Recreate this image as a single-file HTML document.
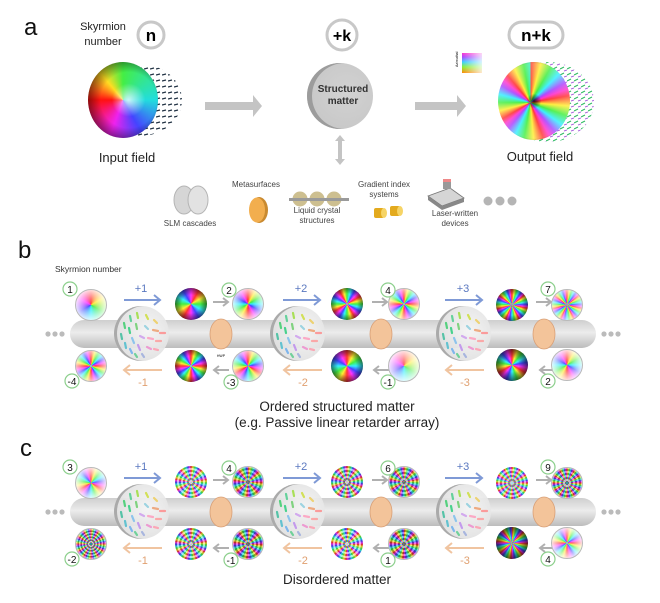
<!DOCTYPE html>
<html><head><meta charset="utf-8"><style>
body{margin:0;background:#fff}
#c{position:relative;width:660px;height:603px;overflow:hidden;background:#fff;font-family:"Liberation Sans",sans-serif}
.d{position:absolute;border-radius:50%}
.w{width:32px;height:32px;box-sizing:border-box;border:1.5px solid #b9b9b9}
.k{width:32px;height:32px}
svg{position:absolute;left:0;top:0}
</style></head><body><div id="c">
<svg width="660" height="603">
<defs>
<pattern id="ar" width="6" height="6" patternUnits="userSpaceOnUse"><line x1="0" y1="3" x2="4" y2="2" stroke="#234" stroke-width="1.2"/></pattern>
<pattern id="ar2" width="7" height="6" patternUnits="userSpaceOnUse"><line x1="0" y1="3" x2="4" y2="1" stroke="#3b6" stroke-width="1.2"/><line x1="4" y1="5" x2="7" y2="4" stroke="#a6d" stroke-width="1"/></pattern>
<linearGradient id="tube" x1="0" y1="0" x2="0" y2="1"><stop offset="0" stop-color="#cfcfcf"/><stop offset=".45" stop-color="#ececec"/><stop offset="1" stop-color="#bcbcbc"/></linearGradient>
</defs>
<text x="24" y="35" font-size="24" fill="#111">a</text>
<text x="103" y="30" font-size="11" text-anchor="middle" fill="#222">Skyrmion</text>
<text x="103" y="45" font-size="11" text-anchor="middle" fill="#222">number</text>
<circle cx="151" cy="35" r="13" fill="#fff" stroke="#c8c8c8" stroke-width="3"/>
<text x="151" y="41" font-size="17" font-weight="bold" text-anchor="middle">n</text>
<circle cx="342" cy="35" r="15" fill="#fff" stroke="#c8c8c8" stroke-width="3"/>
<text x="342" y="41" font-size="16" font-weight="bold" text-anchor="middle">+k</text>
<rect x="509" y="22" width="54" height="26" rx="13" fill="#fff" stroke="#c8c8c8" stroke-width="3"/>
<text x="536" y="41" font-size="17" font-weight="bold" text-anchor="middle">n+k</text>
<ellipse cx="140" cy="100" rx="42" ry="36" fill="url(#ar)"/>
<ellipse cx="548" cy="102" rx="46" ry="40" fill="url(#ar2)"/>
<path d="M205 102h48v-7l9 11-9 11v-7h-48z" fill="#c4c4c4"/>
<path d="M415 102h42v-7l9 11-9 11v-7h-42z" fill="#c4c4c4"/>
<path d="M340 135l-5 6h3v18h-3l5 6 5-6h-3v-18h3z" fill="#c4c4c4"/>
<text x="127" y="162" font-size="13" text-anchor="middle" fill="#222">Input field</text>
<text x="540" y="161" font-size="13" text-anchor="middle" fill="#222">Output field</text>
<defs><linearGradient id="cm" x1="0" y1="1" x2="0" y2="0"><stop offset="0" stop-color="#f80"/><stop offset=".3" stop-color="#8e3"/><stop offset=".55" stop-color="#3cf"/><stop offset=".8" stop-color="#a4f"/><stop offset="1" stop-color="#f3c"/></linearGradient><linearGradient id="cmw" x1="0" y1="0" x2="1" y2="0"><stop offset="0" stop-color="#fff" stop-opacity="0"/><stop offset="1" stop-color="#fff" stop-opacity=".8"/></linearGradient></defs>
<rect x="462" y="53" width="20" height="20" fill="url(#cm)"/><rect x="462" y="53" width="20" height="20" fill="url(#cmw)"/>
<text x="458" y="67" font-size="3.5" transform="rotate(-90 458 67)">Azimuthal</text>
<ellipse cx="184" cy="200" rx="10" ry="14" fill="#d6d6d6" stroke="#b5b5b5"/>
<ellipse cx="198" cy="200" rx="10" ry="14" fill="#e2e2e2" stroke="#b5b5b5"/>
<text x="190" y="226" font-size="8" text-anchor="middle" fill="#444">SLM cascades</text>
<text x="256" y="187" font-size="8" text-anchor="middle" fill="#444">Metasurfaces</text>
<ellipse cx="259" cy="210" rx="9" ry="13" fill="#c98a30"/><ellipse cx="257" cy="210" rx="8" ry="12.5" fill="#f2ae4e"/>
<circle cx="300" cy="199" r="7.5" fill="#cdbf90"/><circle cx="317" cy="199" r="7.5" fill="#cdbf90"/><circle cx="334" cy="199" r="7.5" fill="#cdbf90"/>
<rect x="289" y="198" width="60" height="3" fill="#9a9a9a"/>
<text x="317" y="213" font-size="8" text-anchor="middle" fill="#444">Liquid crystal</text>
<text x="317" y="223" font-size="8" text-anchor="middle" fill="#444">structures</text>
<text x="384" y="187" font-size="8" text-anchor="middle" fill="#444">Gradient index</text>
<text x="384" y="197" font-size="8" text-anchor="middle" fill="#444">systems</text>
<rect x="374" y="208" width="10" height="10" rx="2" fill="#e3aa1e"/><ellipse cx="384" cy="213" rx="3" ry="5" fill="#f6d466"/>
<rect x="390" y="206" width="10" height="10" rx="2" fill="#e3aa1e"/><ellipse cx="400" cy="211" rx="3" ry="5" fill="#f6d466"/>
<path d="M428 196l22-8 14 10-22 8z" fill="#d5d5d5" stroke="#777" stroke-width=".8"/><path d="M428 196v4l14 10v-4zM442 206v4l22-8v-4z" fill="#888"/>
<rect x="443" y="179" width="8" height="10" fill="#999"/><rect x="443" y="179" width="8" height="3" fill="#e88"/>
<text x="455" y="216" font-size="8" text-anchor="middle" fill="#444">Laser-written</text>
<text x="455" y="226" font-size="8" text-anchor="middle" fill="#444">devices</text>
<circle cx="488" cy="201" r="4.5" fill="#b5b5b5"/><circle cx="500" cy="201" r="4.5" fill="#b5b5b5"/><circle cx="512" cy="201" r="4.5" fill="#b5b5b5"/>
<text x="18" y="258" font-size="24" fill="#111">b</text>
<text x="55" y="272" font-size="8.5" fill="#333">Skyrmion number</text>
<rect x="70" y="320" width="526" height="28" rx="14" fill="url(#tube)"/>
<rect x="70" y="498" width="526" height="28" rx="14" fill="url(#tube)"/>
<g fill="#bbb"><circle cx="48" cy="334" r="2.6"/><circle cx="55" cy="334" r="2.6"/><circle cx="62" cy="334" r="2.6"/><circle cx="604" cy="334" r="2.6"/><circle cx="611" cy="334" r="2.6"/><circle cx="618" cy="334" r="2.6"/>
<circle cx="48" cy="512" r="2.6"/><circle cx="55" cy="512" r="2.6"/><circle cx="62" cy="512" r="2.6"/><circle cx="604" cy="512" r="2.6"/><circle cx="611" cy="512" r="2.6"/><circle cx="618" cy="512" r="2.6"/></g>
<g id="arrs">
<g stroke="#7f9ad6" stroke-width="2" fill="none"><path d="M124 300h36M154 295l6 5-6 5"/><path d="M283 300h37M314 295l6 5-6 5"/><path d="M445 300h37M476 295l6 5-6 5"/></g>
<g fill="#5a78c0" font-size="11" text-anchor="middle"><text x="141" y="292">+1</text><text x="301" y="292">+2</text><text x="463" y="292">+3</text></g>
<g stroke="#b0b0b0" stroke-width="2" fill="none"><path d="M213 302h15M223 298l5 4-5 4"/><path d="M372 302h15M382 298l5 4-5 4"/><path d="M536 302h15M546 298l5 4-5 4"/>
<path d="M214 370h15M219 366l-5 4 5 4"/><path d="M374 370h15M379 366l-5 4 5 4"/><path d="M540 370h15M545 366l-5 4 5 4"/></g>
<g stroke="#f0c4a0" stroke-width="2" fill="none"><path d="M124 370h38M130 365l-6 5 6 5"/><path d="M284 370h38M290 365l-6 5 6 5"/><path d="M446 370h38M452 365l-6 5 6 5"/></g>
<g fill="#e0a070" font-size="11" text-anchor="middle"><text x="143" y="386">-1</text><text x="303" y="386">-2</text><text x="465" y="386">-3</text></g>
</g>
<use href="#arrs" y="178"/>
<text x="221" y="357" font-size="3.5" text-anchor="middle">HWP</text>
<text x="337" y="411" font-size="13.5" text-anchor="middle" fill="#222">Ordered structured matter</text>
<text x="337" y="427" font-size="13.5" text-anchor="middle" fill="#222">(e.g. Passive linear retarder array)</text>
<text x="20" y="456" font-size="24" fill="#111">c</text>
<text x="337" y="584" font-size="13.5" text-anchor="middle" fill="#222">Disordered matter</text>
<g fill="#f3c49a" stroke="#d9a077" stroke-width=".8"><ellipse cx="221" cy="334" rx="11" ry="15"/><ellipse cx="381" cy="334" rx="11" ry="15"/><ellipse cx="544" cy="334" rx="11" ry="15"/>
<ellipse cx="221" cy="512" rx="11" ry="15"/><ellipse cx="381" cy="512" rx="11" ry="15"/><ellipse cx="544" cy="512" rx="11" ry="15"/></g>
</svg>

<div class="d" style="left:88px;top:62px;width:70px;height:76px;background:radial-gradient(circle at 58% 50%,rgba(255,255,255,.75) 0,rgba(255,255,255,0) 30%,rgba(0,0,0,0) 50%,rgba(0,0,0,.95) 100%),conic-gradient(from 0deg at 50% 50%,#4e4 0deg,#2dd 90deg,#44f 150deg,#e2e 200deg,#f11 270deg,#fd2 320deg,#4e4 360deg)"></div>
<div class="d" style="left:498px;top:62px;width:72px;height:78px;background:radial-gradient(circle at 50% 50%,rgba(0,0,0,.8) 0,rgba(255,255,255,0) 14%,rgba(255,255,255,.2) 70%,rgba(0,0,0,.6) 100%),repeating-conic-gradient(from 0deg at 45% 52%,#f33 0deg,#fe3 15deg,#4e4 30deg,#3ef 45deg,#a4f 60deg,#f3c 70deg,#f33 80deg)"></div>
<div class="d" style="left:307px;top:63px;width:66px;height:66px;background:radial-gradient(circle at 60% 45%,#d2d2d2,#c4c4c4);box-shadow:inset 5px 0 0 #9c9c9c"></div>
<div style="position:absolute;left:310px;top:84px;width:66px;text-align:center;font-size:10px;font-weight:bold;color:#333;line-height:12px">Structured<br>matter</div>

<div class="d" style="left:114px;top:306px;width:55px;height:55px;background:radial-gradient(circle at 60% 45%,rgba(245,245,245,.95),rgba(215,215,215,.9));box-shadow:inset 3px 0 0 #aaa"></div>
<div class="d" style="left:270px;top:306px;width:55px;height:55px;background:radial-gradient(circle at 60% 45%,rgba(245,245,245,.95),rgba(215,215,215,.9));box-shadow:inset 3px 0 0 #aaa"></div>
<div class="d" style="left:436px;top:306px;width:55px;height:55px;background:radial-gradient(circle at 60% 45%,rgba(245,245,245,.95),rgba(215,215,215,.9));box-shadow:inset 3px 0 0 #aaa"></div>
<div class="d" style="left:114px;top:484px;width:55px;height:55px;background:radial-gradient(circle at 60% 45%,rgba(245,245,245,.95),rgba(215,215,215,.9));box-shadow:inset 3px 0 0 #aaa"></div>
<div class="d" style="left:270px;top:484px;width:55px;height:55px;background:radial-gradient(circle at 60% 45%,rgba(245,245,245,.95),rgba(215,215,215,.9));box-shadow:inset 3px 0 0 #aaa"></div>
<div class="d" style="left:436px;top:484px;width:55px;height:55px;background:radial-gradient(circle at 60% 45%,rgba(245,245,245,.95),rgba(215,215,215,.9));box-shadow:inset 3px 0 0 #aaa"></div>

<div class="d w" style="left:75px;top:289px;background:radial-gradient(circle,rgba(255,255,255,0) 5%,rgba(255,255,255,.95) 80%),conic-gradient(#f33,#fe3,#4e4,#3ef,#44f,#f3f,#f33)"></div>
<div class="d k" style="left:175px;top:288px;background:radial-gradient(circle,rgba(0,0,0,0) 40%,#000 100%),repeating-conic-gradient(from 30deg,#f33 0,#fe3 30deg,#4e4 60deg,#3ef 90deg,#44f 120deg,#f3f 150deg,#f33 180deg)"></div>
<div class="d w" style="left:232px;top:288px;background:radial-gradient(circle,rgba(255,255,255,0) 20%,rgba(255,255,255,.95) 85%),repeating-conic-gradient(#f33 0,#fe3 30deg,#4e4 60deg,#3ef 90deg,#44f 120deg,#f3f 150deg,#f33 180deg)"></div>
<div class="d k" style="left:331px;top:288px;background:radial-gradient(circle,rgba(0,0,0,0) 45%,#000 100%),repeating-conic-gradient(from 60deg,#f33 0,#fe3 15deg,#4e4 30deg,#3ef 45deg,#44f 60deg,#f3f 75deg,#f33 90deg)"></div>
<div class="d w" style="left:388px;top:288px;background:radial-gradient(circle,rgba(255,255,255,0) 20%,rgba(255,255,255,.9) 90%),repeating-conic-gradient(#f33 0,#fe3 15deg,#4e4 30deg,#3ef 45deg,#44f 60deg,#f3f 75deg,#f33 90deg)"></div>
<div class="d k" style="left:496px;top:289px;background:radial-gradient(circle,rgba(0,0,0,0) 45%,#000 100%),repeating-conic-gradient(#f33 0,#fe3 9deg,#4e4 18deg,#3ef 27deg,#44f 36deg,#f3f 45deg,#f33 51deg)"></div>
<div class="d w" style="left:551px;top:289px;background:radial-gradient(circle,rgba(255,255,255,0) 20%,rgba(255,255,255,.9) 90%),repeating-conic-gradient(#f33 0,#fe3 9deg,#4e4 18deg,#3ef 27deg,#44f 36deg,#f3f 45deg,#f33 51deg)"></div>

<div class="d w" style="left:75px;top:350px;background:radial-gradient(circle,rgba(255,255,255,0) 20%,rgba(255,255,255,.9) 90%),repeating-conic-gradient(#f33 0,#fe3 15deg,#4e4 30deg,#3ef 45deg,#44f 60deg,#f3f 75deg,#f33 90deg)"></div>
<div class="d k" style="left:175px;top:350px;background:radial-gradient(circle,rgba(0,0,0,0) 45%,#000 100%),repeating-conic-gradient(#f33 0,#fe3 15deg,#4e4 30deg,#3ef 45deg,#44f 60deg,#f3f 75deg,#f33 90deg)"></div>
<div class="d w" style="left:232px;top:350px;background:radial-gradient(circle,rgba(255,255,255,0) 20%,rgba(255,255,255,.9) 90%),repeating-conic-gradient(#f33 0,#fe3 20deg,#4e4 40deg,#3ef 60deg,#44f 80deg,#f3f 100deg,#f33 120deg)"></div>
<div class="d k" style="left:331px;top:350px;background:radial-gradient(circle,rgba(0,0,0,0) 40%,#000 100%),repeating-conic-gradient(#f33 0,#fe3 30deg,#4e4 60deg,#3ef 90deg,#44f 120deg,#f3f 150deg,#f33 180deg)"></div>
<div class="d w" style="left:388px;top:350px;background:radial-gradient(circle,rgba(255,255,255,.2) 5%,rgba(255,255,255,.95) 80%),conic-gradient(#f33,#fe3,#4e4,#3ef,#44f,#f3f,#f33)"></div>
<div class="d k" style="left:496px;top:349px;background:radial-gradient(circle,rgba(0,0,0,0) 30%,#000 100%),repeating-conic-gradient(#f33 0,#fe3 20deg,#4e4 40deg,#3ef 60deg,#44f 80deg,#f3f 100deg,#f33 120deg)"></div>
<div class="d w" style="left:551px;top:349px;background:radial-gradient(circle,rgba(255,255,255,0) 5%,rgba(255,255,255,.95) 80%),repeating-conic-gradient(#f33 0,#fe3 30deg,#4e4 60deg,#3ef 90deg,#44f 120deg,#f3f 150deg,#f33 180deg)"></div>

<div class="d w" style="left:75px;top:467px;background:radial-gradient(circle,rgba(255,255,255,0) 5%,rgba(255,255,255,.95) 80%),repeating-conic-gradient(#f33 0,#fe3 20deg,#4e4 40deg,#3ef 60deg,#44f 80deg,#f3f 100deg,#f33 120deg)"></div>
<div class="d k" style="left:175px;top:466px;background:repeating-radial-gradient(circle,rgba(255,255,255,.55) 0 2px,rgba(0,0,0,.15) 2px 4px),repeating-conic-gradient(#f33 0,#fe3 7deg,#4e4 14deg,#3ef 21deg,#44f 28deg,#f3f 35deg,#f33 40deg)"></div>
<div class="d w" style="left:232px;top:466px;background:repeating-radial-gradient(circle,rgba(0,0,0,.25) 0 2px,rgba(255,255,255,.3) 2px 4px),repeating-conic-gradient(#f33 0,#fe3 8deg,#4e4 16deg,#3ef 24deg,#44f 32deg,#f3f 40deg,#f33 46deg)"></div>
<div class="d k" style="left:331px;top:466px;background:repeating-radial-gradient(circle,rgba(255,255,255,.5) 0 2px,rgba(0,0,0,.2) 2px 4px),repeating-conic-gradient(#f33 0,#fe3 6deg,#4e4 12deg,#3ef 18deg,#44f 24deg,#f3f 30deg,#f33 36deg)"></div>
<div class="d w" style="left:388px;top:466px;background:repeating-radial-gradient(circle,rgba(0,0,0,.25) 0 2px,rgba(255,255,255,.35) 2px 4px),repeating-conic-gradient(#f33 0,#fe3 7deg,#4e4 14deg,#3ef 21deg,#44f 28deg,#f3f 35deg,#f33 40deg)"></div>
<div class="d k" style="left:496px;top:467px;background:repeating-radial-gradient(circle,rgba(255,255,255,.5) 0 2px,rgba(0,0,0,.15) 2px 4px),repeating-conic-gradient(#f33 0,#fe3 5deg,#4e4 10deg,#3ef 15deg,#44f 20deg,#f3f 25deg,#f33 30deg)"></div>
<div class="d w" style="left:551px;top:467px;background:repeating-radial-gradient(circle,rgba(0,0,0,.25) 0 2px,rgba(255,255,255,.35) 2px 4px),repeating-conic-gradient(#f33 0,#fe3 5deg,#4e4 10deg,#3ef 15deg,#44f 20deg,#f3f 25deg,#f33 30deg)"></div>

<div class="d w" style="left:75px;top:528px;background:repeating-radial-gradient(circle,rgba(0,0,0,.3) 0 1.5px,rgba(255,255,255,.4) 1.5px 3px),repeating-conic-gradient(#f33 0,#fe3 5deg,#4e4 10deg,#3ef 15deg,#44f 20deg,#f3f 25deg,#f33 30deg)"></div>
<div class="d k" style="left:175px;top:528px;background:repeating-radial-gradient(circle,rgba(255,255,255,.5) 0 2px,rgba(0,0,0,.2) 2px 4px),repeating-conic-gradient(#f33 0,#fe3 7deg,#4e4 14deg,#3ef 21deg,#44f 28deg,#f3f 35deg,#f33 40deg)"></div>
<div class="d w" style="left:232px;top:528px;background:repeating-radial-gradient(circle,rgba(0,0,0,.3) 0 2px,rgba(255,255,255,.3) 2px 4px),repeating-conic-gradient(#f33 0,#fe3 8deg,#4e4 16deg,#3ef 24deg,#44f 32deg,#f3f 40deg,#f33 46deg)"></div>
<div class="d k" style="left:331px;top:528px;background:repeating-radial-gradient(circle,rgba(255,255,255,.55) 0 2px,rgba(0,0,0,.15) 2px 4px),repeating-conic-gradient(#f33 0,#fe3 8deg,#4e4 16deg,#3ef 24deg,#44f 32deg,#f3f 40deg,#f33 46deg)"></div>
<div class="d w" style="left:388px;top:528px;background:repeating-radial-gradient(circle,rgba(0,0,0,.3) 0 2px,rgba(255,255,255,.3) 2px 4px),repeating-conic-gradient(#f33 0,#fe3 8deg,#4e4 16deg,#3ef 24deg,#44f 32deg,#f3f 40deg,#f33 46deg)"></div>
<div class="d k" style="left:496px;top:527px;background:radial-gradient(circle,rgba(0,0,0,0) 25%,#000 100%),repeating-conic-gradient(#f33 0,#fe3 8deg,#4e4 16deg,#3ef 24deg,#44f 32deg,#f3f 40deg,#f33 46deg)"></div>
<div class="d w" style="left:551px;top:527px;background:radial-gradient(circle,rgba(255,255,255,0) 5%,rgba(255,255,255,.95) 80%),repeating-conic-gradient(#f33 0,#fe3 15deg,#4e4 30deg,#3ef 45deg,#44f 60deg,#f3f 75deg,#f33 90deg)"></div>

<svg width="660" height="603">
<defs>
<g id="ds" stroke-width="2.2" stroke-linecap="round">
<line x1="-18" y1="-10" x2="-17" y2="-5" stroke="#3c6"/><line x1="-12" y1="-17" x2="-11" y2="-12" stroke="#4c8"/><line x1="-5" y1="-20" x2="-4" y2="-15" stroke="#9d3"/><line x1="4" y1="-18" x2="6" y2="-14" stroke="#cd3"/><line x1="12" y1="-13" x2="15" y2="-10" stroke="#ec5"/>
<line x1="-21" y1="1" x2="-20" y2="6" stroke="#3b9"/><line x1="-13" y1="-5" x2="-12" y2="0" stroke="#2c7"/><line x1="-6" y1="-9" x2="-5" y2="-4" stroke="#6c6"/><line x1="3" y1="-7" x2="6" y2="-4" stroke="#8cd"/><line x1="11" y1="-3" x2="16" y2="-2" stroke="#e96"/><line x1="18" y1="0" x2="23" y2="0" stroke="#f88"/>
<line x1="-17" y1="10" x2="-16" y2="15" stroke="#4bc"/><line x1="-10" y1="5" x2="-8" y2="10" stroke="#7be"/><line x1="-2" y1="3" x2="2" y2="5" stroke="#c9e"/><line x1="6" y1="5" x2="11" y2="6" stroke="#f9b"/><line x1="14" y1="8" x2="19" y2="8" stroke="#f99"/>
<line x1="-12" y1="16" x2="-10" y2="20" stroke="#6ae"/><line x1="-4" y1="12" x2="-2" y2="17" stroke="#b8e"/><line x1="5" y1="14" x2="9" y2="16" stroke="#e8c"/><line x1="12" y1="16" x2="16" y2="17" stroke="#f9a"/><line x1="0" y1="21" x2="2" y2="24" stroke="#9ad"/><line x1="-7" y1="21" x2="-5" y2="24" stroke="#5c8"/>
</g>
<g id="bd"><circle r="7" fill="#fff" stroke="#8ccf8c" stroke-width="1.2"/></g>
</defs>
<use href="#ds" x="142" y="333" opacity=".8"/><use href="#ds" x="298" y="333" opacity=".8"/><use href="#ds" x="464" y="333" opacity=".8"/>
<use href="#ds" x="142" y="511" opacity=".8"/><use href="#ds" x="298" y="511" opacity=".8"/><use href="#ds" x="464" y="511" opacity=".8"/>
<g font-size="10" text-anchor="middle" fill="#111">
<use href="#bd" x="70" y="289"/><text x="70" y="293">1</text>
<use href="#bd" x="229" y="290"/><text x="229" y="294">2</text>
<use href="#bd" x="388" y="290"/><text x="388" y="294">4</text>
<use href="#bd" x="548" y="289"/><text x="548" y="293">7</text>
<use href="#bd" x="72" y="381"/><text x="72" y="385">-4</text>
<use href="#bd" x="231" y="382"/><text x="231" y="386">-3</text>
<use href="#bd" x="388" y="382"/><text x="388" y="386">-1</text>
<use href="#bd" x="548" y="381"/><text x="548" y="385">2</text>
<use href="#bd" x="70" y="467"/><text x="70" y="471">3</text>
<use href="#bd" x="229" y="468"/><text x="229" y="472">4</text>
<use href="#bd" x="388" y="468"/><text x="388" y="472">6</text>
<use href="#bd" x="548" y="467"/><text x="548" y="471">9</text>
<use href="#bd" x="72" y="559"/><text x="72" y="563">-2</text>
<use href="#bd" x="231" y="560"/><text x="231" y="564">-1</text>
<use href="#bd" x="388" y="560"/><text x="388" y="564">1</text>
<use href="#bd" x="548" y="559"/><text x="548" y="563">4</text>
</g>
</svg>
</div></body></html>
